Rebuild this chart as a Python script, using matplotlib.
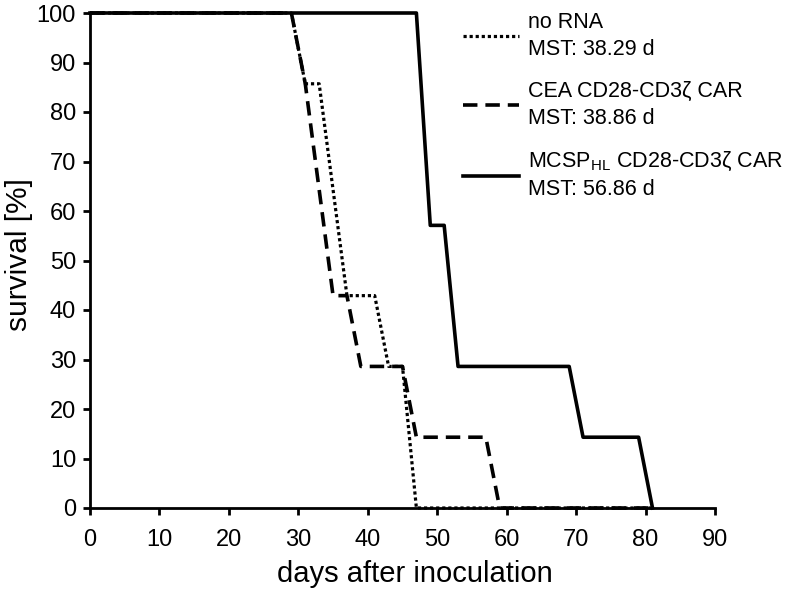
import matplotlib.pyplot as plt

plt.rcParams['font.family'] = ['Liberation Sans', 'DejaVu Sans']
plt.rcParams['mathtext.fontset'] = 'custom'
plt.rcParams['mathtext.rm'] = 'Liberation Sans'

# survival curves, drawn as the corner points of each step
days_no_rna = [0, 29, 31, 33, 37, 41, 43, 45, 47, 81]
surv_no_rna = [100, 100, 85.7, 85.7, 42.9, 42.9, 28.6, 28.6, 0, 0]

days_cea = [0, 29, 31, 35, 37, 39, 45, 47, 57, 59, 81]
surv_cea = [100, 100, 85.7, 42.9, 42.9, 28.6, 28.6, 14.3, 14.3, 0, 0]

days_mcsp = [0, 47, 49, 51, 53, 69, 71, 79, 81]
surv_mcsp = [100, 100, 57.1, 57.1, 28.6, 28.6, 14.3, 14.3, 0]

labels = ['no RNA\nMST: 38.29 d',
          'CEA CD28-CD3ζ CAR\nMST: 38.86 d',
          'MCSP$_\\mathregular{HL}$ CD28-CD3ζ CAR\nMST: 56.86 d']

fig = plt.figure(figsize=(7.86, 5.96), dpi=100)
ax = fig.add_axes([90/786, 88/596, 625/786, 495/596])

l1, = ax.plot(days_no_rna, surv_no_rna, color='black', lw=2.3,
              linestyle=(0, (1, 0.9)), clip_on=False)
l2, = ax.plot(days_cea, surv_cea, color='black', lw=2.6,
              linestyle=(0, (4, 2.2)), clip_on=False)
l3, = ax.plot(days_mcsp, surv_mcsp, color='black', lw=2.6, clip_on=False)

ax.set_xlim(0, 90)
ax.set_ylim(0, 100)
ax.set_xticks(range(0, 91, 10))
ax.set_yticks(range(0, 101, 10))
ax.spines['top'].set_visible(False)
ax.spines['right'].set_visible(False)
for s in ['left', 'bottom']:
    ax.spines[s].set_linewidth(2)
ax.tick_params(direction='out', length=5, width=2, labelsize=17)
ax.tick_params(axis='x', pad=10)
ax.tick_params(axis='y', pad=5)

ax.set_xlabel('days after inoculation', fontsize=21, labelpad=9)
ax.xaxis.set_label_coords(0.52, -0.105)
ax.set_ylabel('survival [%]', fontsize=21.5, labelpad=3)
ax.yaxis.label.set_y(0.512)

leg = ax.legend([l1, l2, l3], labels, loc='upper left',
                bbox_to_anchor=(463/786, 1 - 12/596), bbox_transform=fig.transFigure,
                frameon=False, fontsize=15.5, handlelength=2.6, handletextpad=0.4,
                labelspacing=1.0, borderpad=0, borderaxespad=0)
for t in leg.get_texts():
    t.set_linespacing(1.35)

fig.savefig('out.png', dpi=100)
